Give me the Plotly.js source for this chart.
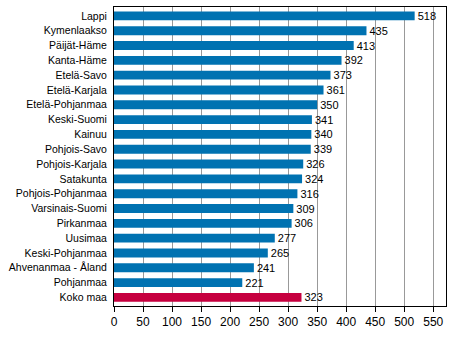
<!DOCTYPE html>
<html><head><meta charset="utf-8">
<script src="https://cdn.plot.ly/plotly-3.0.1.min.js"></script>
<style>body{margin:0;padding:0;background:#fff}</style>
</head><body>
<div id="chart" style="width:454px;height:340px"></div>
<script>
const regions = ["Lappi","Kymenlaakso","Päijät-Häme","Kanta-Häme","Etelä-Savo","Etelä-Karjala","Etelä-Pohjanmaa","Keski-Suomi","Kainuu","Pohjois-Savo","Pohjois-Karjala","Satakunta","Pohjois-Pohjanmaa","Varsinais-Suomi","Pirkanmaa","Uusimaa","Keski-Pohjanmaa","Ahvenanmaa - Åland","Pohjanmaa","Koko maa"];
const values = [518,435,413,392,373,361,350,341,340,339,326,324,316,309,306,277,265,241,221,323];
const tickVals = [0,50,100,150,200,250,300,350,400,450,500,550];
const blue = "#0072B1", red = "#C6003F";
const colors = regions.map(r => r === "Koko maa" ? red : blue);
Plotly.newPlot("chart", [{
  type: "bar", orientation: "h",
  y: regions, x: values,
  marker: {color: colors, line: {width: 0}},
  width: 0.6,
  text: values.map(String), textposition: "outside", cliponaxis: false,
  constraintext: "none",
  textfont: {family: "Liberation Sans, Arial, sans-serif", size: 11, color: "#000"},
  hoverinfo: "none"
}], {
  width: 454, height: 340,
  margin: {l: 114, r: 8, t: 7, b: 34, pad: 0},
  paper_bgcolor: "#fff", plot_bgcolor: "#fff",
  font: {family: "Liberation Sans, Arial, sans-serif", color: "#000"},
  showlegend: false,
  xaxis: {
    range: [0, 572], tickvals: tickVals, ticktext: tickVals.map(String),
    showgrid: true, gridcolor: "#999", gridwidth: 1,
    showline: true, linecolor: "#000", linewidth: 1, mirror: true,
    ticks: "outside", ticklen: 5, tickcolor: "#000",
    tickfont: {size: 12}, zeroline: false, fixedrange: true
  },
  yaxis: {
    autorange: false, range: [19.58, -0.6], type: "category",
    showgrid: false, showline: true, linecolor: "#000", linewidth: 1, mirror: true,
    ticks: "", tickfont: {size: 10.5}, ticklabelstandoff: 4, fixedrange: true
  }
}, {staticPlot: true});
</script>
</body></html>
